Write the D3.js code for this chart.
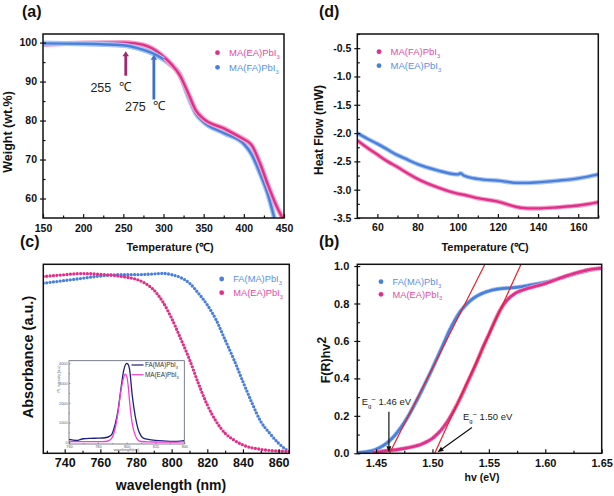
<!DOCTYPE html>
<html><head><meta charset="utf-8">
<script src="https://cdn.jsdelivr.net/npm/d3@7/dist/d3.min.js"></script>
<style>
body{margin:0;background:#fff;}
svg text{font-family:"Liberation Sans",Arial,Helvetica,sans-serif;}
</style></head>
<body>
<svg id="chart" width="614" height="496"></svg>
<script>
// ---------------- data ----------------
// (a) TGA
const tgaTempEA   = [150,200,250,265,275,285,300,310,320,330,340,350,375,400,405,410,420,430,440,448];
const tgaWeightEA = [99.5,99.9,100.0,99.8,99.4,98.6,96.4,94.4,91.7,87.4,82.7,80.4,78.0,75.2,74.6,73.6,69.1,63.5,58.4,55.0];
const tgaTempFA   = [150,200,250,275,290,300,310,320,330,340,350,375,400,410,420,430,438];
const tgaWeightFA = [99.8,99.7,99.3,98.1,96.9,95.7,94.1,92.1,86.6,81.9,79.6,76.8,74.0,71.2,66.5,61.0,55.0];
const tgaLegend   = ["MA(EA)PbI3","MA(FA)PbI3"];
const tgaXTicks   = [150,200,250,300,350,400,450];
const tgaYTicks   = [60,70,80,90,100];
const tgaOnset    = [255,275];          // annotated onset temperatures
const tgaArrowT   = [253,288];          // arrow positions (°C)
const tgaArrowW0  = [91.5,85.4];        // arrow tail (wt.%)
const tgaArrowW1  = [97.8,96.9];        // arrow head (wt.%)

// (d) DSC
const dscTemp  = [50,55,60,65,70,75,80,90,100,101.5,103,110,120,130,135,140,150,160,170];
const dscPink  = [-2.13,-2.26,-2.38,-2.50,-2.60,-2.71,-2.81,-2.96,-3.07,-3.08,-3.09,-3.15,-3.21,-3.31,-3.33,-3.33,-3.31,-3.28,-3.22];
const dscBlue  = [-2.00,-2.10,-2.19,-2.29,-2.39,-2.47,-2.55,-2.66,-2.73,-2.71,-2.75,-2.81,-2.84,-2.88,-2.88,-2.87,-2.84,-2.80,-2.73];
const dscLegend = ["MA(FA)PbI3","MA(EA)PbI3"];
const dscXTicks = [60,80,100,120,140,160];
const dscYTicks = [-3.5,-3.0,-2.5,-2.0,-1.5,-1.0,-0.5];

// (c) Absorbance
const absWlFA = [728,740,750,760,770,780,790,795,800,805,810,815,820,825,830,835,840,845,850,855,860,865];
const absFA   = [0.900,0.914,0.926,0.938,0.945,0.945,0.949,0.952,0.945,0.930,0.900,0.847,0.785,0.705,0.600,0.494,0.379,0.268,0.168,0.106,0.053,0.014];
const absWlEA = [728,740,750,760,770,775,780,785,790,795,800,805,810,815,820,825,830,835,840,850,860,866];
const absEA   = [0.935,0.945,0.951,0.947,0.938,0.931,0.921,0.900,0.864,0.802,0.714,0.608,0.497,0.370,0.256,0.168,0.106,0.070,0.044,0.021,0.012,0.010];
const absLegend = ["FA(MA)PbI3","MA(EA)PbI3"];
const absXTicks = [740,760,780,800,820,840,860];

// (c) inset PL
const plWlFA = [760,765,770,775,780,785,788,790,792,794,796,798,800,801,802,804,806,808,810,812,815,820,825,830,835,840];
const plFA   = [150,90,180,200,210,230,300,450,900,1600,2700,3650,4000,3950,3700,2300,1300,650,330,200,150,100,70,50,40,80];
const plWlEA = [760,770,780,785,788,790,792,794,796,798,799,800,801,802,803,804,806,808,810,815,820,830,840];
const plEA   = [40,30,30,40,100,250,700,1500,2600,3300,3450,3350,2900,2100,1400,900,350,100,40,20,15,10,20];
const plLegend = ["FA(MA)PbI3","MA(EA)PbI3"];
const plXTicks = [760,780,800,820,840];
const plYTicks = [0,1000,2000,3000,4000];

// (b) Tauc-like plot
const bgEFA = [1.435,1.44,1.45,1.455,1.46,1.465,1.47,1.475,1.48,1.485,1.49,1.495,1.50,1.505,1.51,1.515,1.52,1.525,1.53,1.535,1.54,1.55,1.56,1.57,1.58,1.59,1.60,1.61,1.62,1.63,1.64,1.65];
const bgFA  = [0.004,0.007,0.021,0.036,0.057,0.085,0.121,0.164,0.214,0.270,0.329,0.391,0.454,0.520,0.587,0.655,0.712,0.760,0.795,0.822,0.842,0.867,0.879,0.884,0.891,0.902,0.913,0.929,0.947,0.964,0.979,0.988];
const bgEEA = [1.448,1.46,1.47,1.48,1.49,1.495,1.50,1.505,1.51,1.515,1.52,1.525,1.53,1.535,1.54,1.545,1.55,1.555,1.56,1.565,1.57,1.575,1.58,1.59,1.60,1.61,1.62,1.63,1.64,1.65];
const bgEA  = [0.005,0.014,0.021,0.032,0.048,0.062,0.080,0.107,0.142,0.187,0.240,0.300,0.365,0.430,0.498,0.570,0.635,0.703,0.765,0.810,0.840,0.860,0.872,0.890,0.907,0.929,0.950,0.968,0.982,0.989];
const bgLegend = ["FA(MA)PbI3","MA(EA)PbI3"];
const bgTangentE0 = [1.462,1.502];   // intercept at F=0
const bgTangentE1 = [1.5465,1.5785]; // at top of axis
const bgGapLabels = ["1.46 eV","1.50 eV"];
const bgXTicks = [1.45,1.50,1.55,1.60,1.65];
const bgYTicks = [0,0.2,0.4,0.6,0.8,1.0];

// ---------------- drawing ----------------
const svg = d3.select('#chart');
const defs = svg.append('defs');
const PINK='#e0308a', PINK_L='#f3a3cb', BLUE='#4a80dc', BLUE_L='#a9c6f1';
const PINK_T='#e24b9f', BLUE_T='#5a8fe2';
const INK='#111';

function makePanel(o){
  const x=d3.scaleLinear().domain(o.xd).range([o.l,o.r]);
  const y=d3.scaleLinear().domain(o.yd).range([o.b,o.t]);
  const g=svg.append('g');
  const id='clip'+o.name;
  defs.append('clipPath').attr('id',id).append('rect')
    .attr('x',o.l).attr('y',o.t).attr('width',o.r-o.l).attr('height',o.b-o.t);
  if(o.bg) g.append('rect').attr('x',o.l).attr('y',o.t).attr('width',o.r-o.l).attr('height',o.b-o.t).attr('fill',o.bg);
  const plot=g.append('g').attr('clip-path',`url(#${id})`);
  return {x,y,g,plot,o};
}
function axes(p,a){
  const {x,y,g,o}=p;
  const sw=a.sw||1.5, col=a.col||INK;
  if(a.xt){
    const ax=g.append('g').attr('transform',`translate(0,${o.b})`)
      .call(d3.axisBottom(x).tickValues(a.xt).tickFormat(a.xf).tickSize(-a.tl).tickPadding(a.xpad));
    ax.select('.domain').remove();
    ax.attr('font-size',a.fs).attr('font-family',null).attr('font-weight',a.fw||'bold').attr('color',col);
    ax.selectAll('line').attr('stroke-width',a.tw||1.2);
    if(a.xfc) ax.selectAll('text').attr('fill',a.xfc);
    if(a.xm){
      const mx=g.append('g').attr('transform',`translate(0,${o.b})`)
        .call(d3.axisBottom(x).tickValues(a.xm).tickFormat('').tickSize(-a.ml));
      mx.select('.domain').remove();
      mx.attr('color',col).selectAll('line').attr('stroke-width',a.tw||1.2);
    }
  }
  if(a.yt){
    const ay=g.append('g').attr('transform',`translate(${o.l},0)`)
      .call(d3.axisLeft(y).tickValues(a.yt).tickFormat(a.yf).tickSize(a.tlo).tickPadding(a.ypad));
    ay.select('.domain').remove();
    ay.attr('font-size',a.fs).attr('font-family',null).attr('font-weight',a.fw||'bold').attr('color',col);
    ay.selectAll('line').attr('x1',a.tli).attr('stroke-width',a.tw||1.2);
    if(a.yfc) ay.selectAll('text').attr('fill',a.yfc);
    if(a.ym){
      const my=g.append('g').attr('transform',`translate(${o.l},0)`)
        .call(d3.axisLeft(y).tickValues(a.ym).tickFormat('').tickSize(-a.ml));
      my.select('.domain').remove();
      my.attr('color',col).selectAll('line').attr('stroke-width',a.tw||1.2);
    }
  }
  g.append('rect').attr('x',o.l).attr('y',o.t).attr('width',o.r-o.l).attr('height',o.b-o.t)
    .attr('fill','none').attr('stroke',col).attr('stroke-width',sw);
}
function range(a,b,s){const r=[];for(let v=a;v<=b+1e-9;v+=s)r.push(+v.toFixed(6));return r;}
function chem(t,name,fs){
  const m=name.match(/^(.*?)(\d)$/);
  t.append('tspan').text(m[1]);
  t.append('tspan').attr('font-size',fs*0.62).attr('dy',fs*0.3).text(m[2]);
}
function legend(g,items,x0,y0,dy,fs,kind){
  items.forEach((it,i)=>{
    const yy=y0+i*dy;
    if(kind==='line'){
      g.append('line').attr('x1',x0-6).attr('x2',x0+6).attr('y1',yy).attr('y2',yy).attr('stroke',it.c).attr('stroke-width',1.2);
    }else{
      g.append('circle').attr('cx',x0).attr('cy',yy).attr('r',2.4).attr('fill',it.c);
    }
    const t=g.append('text').attr('x',x0+(kind==='line'?7.5:11.5)).attr('y',yy+fs*0.36).attr('font-size',fs).attr('fill',it.tc||it.c);
    chem(t,it.name,fs);
  });
}
function band(p,xs,ys,c,cl,wc,wh,curve){
  const line=d3.line().x((d,i)=>p.x(xs[i])).y(d=>p.y(d)).curve(curve||d3.curveMonotoneX);
  p.plot.append('path').attr('d',line(ys)).attr('fill','none').attr('stroke',cl).attr('stroke-width',wh).attr('stroke-linejoin','round');
  p.plot.append('path').attr('d',line(ys)).attr('fill','none').attr('stroke',c).attr('stroke-width',wc).attr('stroke-linejoin','round');
}
function dotted(p,xs,ys,c,w,gap,halo,hw){
  const line=d3.line().x((d,i)=>p.x(xs[i])).y(d=>p.y(d)).curve(d3.curveMonotoneX);
  if(halo) p.plot.append('path').attr('d',line(ys)).attr('fill','none').attr('stroke',halo).attr('stroke-width',hw);
  p.plot.append('path').attr('d',line(ys)).attr('fill','none').attr('stroke',c).attr('stroke-width',w)
    .attr('stroke-linecap','round').attr('stroke-dasharray',`0 ${gap}`);
}
function arrow(g,x1,y1,x2,y2,c,w,hl,hw){
  const dx=x2-x1, dy=y2-y1, L=Math.hypot(dx,dy), ux=dx/L, uy=dy/L;
  const bx=x2-ux*hl, by=y2-uy*hl;
  g.append('line').attr('x1',x1).attr('y1',y1).attr('x2',bx+ux*0.5).attr('y2',by+uy*0.5).attr('stroke',c).attr('stroke-width',w);
  g.append('path').attr('d',`M${x2},${y2}L${bx-uy*hw/2},${by+ux*hw/2}L${bx+uy*hw/2},${by-ux*hw/2}Z`).attr('fill',c);
}
function title(x,y,txt,fs,rot,opts){
  const t=svg.append('text').attr('font-size',fs).attr('font-weight','bold').attr('fill',INK).attr('text-anchor','middle');
  if(rot) t.attr('transform',`translate(${x},${y}) rotate(-90)`); else t.attr('x',x).attr('y',y);
  t.text(txt);
  return t;
}
function panelLabel(x,y,txt){
  svg.append('text').attr('x',x).attr('y',y).attr('font-size',16).attr('font-weight','bold').attr('fill',INK).text(txt);
}
const f1=d=>d.toFixed(1), f2=d=>d.toFixed(2), fi=d=>String(d);

// ===== (a) =====
const pa=makePanel({name:'a',l:43,r:284,t:34,b:218,xd:[150,450],yd:[55,102.2]});
band(pa,tgaTempFA,tgaWeightFA,BLUE,BLUE_L,2.4,5);
band(pa,tgaTempEA,tgaWeightEA,PINK,PINK_L,2.4,5);
band(pa,tgaTempFA.filter(t=>t<=300),tgaWeightFA.filter((d,i)=>tgaTempFA[i]<=300),BLUE,BLUE_L,2.4,5);
axes(pa,{xt:tgaXTicks,xf:fi,xm:range(175,425,50),yt:tgaYTicks,yf:fi,ym:range(65,95,10),
  tl:4,ml:2.5,tlo:3,tli:3,xpad:7,ypad:3,fs:10.5});
{
  const cols=['#a2286e','#3f70c8'];
  tgaOnset.forEach((v,i)=>{
    arrow(pa.g,pa.x(tgaArrowT[i]),pa.y(tgaArrowW0[i]),pa.x(tgaArrowT[i]),pa.y(tgaArrowW1[i]),cols[i],2.8,5,6.5);
  });
  pa.g.append('text').attr('x',pa.x(209)).attr('y',pa.y(87.3)).attr('font-size',12.5).attr('fill','#222').text(tgaOnset[0]);
  pa.g.append('text').attr('x',pa.x(245)).attr('y',pa.y(87.6)).attr('font-size',12.5).attr('fill','#222').attr('font-family','DejaVu Sans').text('℃');
  pa.g.append('text').attr('x',pa.x(252)).attr('y',pa.y(82.5)).attr('font-size',12.5).attr('fill','#222').text(tgaOnset[1]);
  pa.g.append('text').attr('x',pa.x(287)).attr('y',pa.y(82.8)).attr('font-size',12.5).attr('fill','#222').attr('font-family','DejaVu Sans').text('℃');
}
legend(pa.g,[{name:tgaLegend[0],c:PINK,tc:PINK_T},{name:tgaLegend[1],c:BLUE,tc:BLUE_T}],217.5,52.7,14.6,9.5);
title(12,132,'Weight (wt.%)',12.5,true);
title(170,251,'Temperature (℃)',11,false);
panelLabel(22,17,'(a)');

// ===== (d) =====
const pd=makePanel({name:'d',l:357.3,r:598.3,t:34,b:218,xd:[50,170],yd:[-3.5,-0.25]});
band(pd,dscTemp,dscBlue,BLUE,BLUE_L,2.4,4.6);
band(pd,dscTemp,dscPink,PINK,PINK_L,2.4,4.6);
axes(pd,{xt:dscXTicks,xf:fi,xm:range(70,170,20),yt:dscYTicks,yf:f1,ym:range(-3.25,-0.25,0.5),
  tl:4,ml:2.5,tlo:3,tli:3,xpad:6,ypad:3,fs:10.5});
legend(pd.g,[{name:dscLegend[0],c:PINK,tc:PINK_T},{name:dscLegend[1],c:BLUE,tc:BLUE_T}],379,51.7,14,9.5);
title(323,130,'Heat Flow (mW)',12,true);
title(485,251,'Temperature (℃)',11,false);
panelLabel(319,17,'(d)');

// ===== (c) =====
const pc=makePanel({name:'c',l:43.3,r:289.3,t:264.3,b:453.3,xd:[728,866],yd:[0,1]});
dotted(pc,absWlFA,absFA,BLUE,3.3,3.4);
dotted(pc,absWlEA,absEA,PINK,3.3,3.4);
axes(pc,{xt:absXTicks,xf:fi,xm:range(730,850,20),tl:4,ml:2.5,xpad:5,fs:12.5});
legend(pc.g,[{name:absLegend[0],c:BLUE,tc:BLUE_T},{name:absLegend[1],c:PINK,tc:PINK_T}],221.7,279,13.7,9.3);
title(33,357,'Absorbance (a.u.)',14.5,true);
title(171,490,'wavelength (nm)',14,false);
panelLabel(20,247,'(c)');

// inset
const pi=makePanel({name:'i',l:69,r:184.3,t:360.7,b:444,xd:[760,840],yd:[-86,4132],bg:'#fff'});
{
  const l1=d3.line().x((d,i)=>pi.x(plWlFA[i])).y(d=>pi.y(d)).curve(d3.curveMonotoneX);
  const l2=d3.line().x((d,i)=>pi.x(plWlEA[i])).y(d=>pi.y(d)).curve(d3.curveMonotoneX);
  pi.plot.append('path').attr('d',l1(plFA)).attr('fill','none').attr('stroke','#1d1f7e').attr('stroke-width',1.3);
  pi.plot.append('path').attr('d',l2(plEA)).attr('fill','none').attr('stroke','#f23fd0').attr('stroke-width',1.3);
}
axes(pi,{xt:plXTicks,xf:fi,xm:range(770,830,20),yt:plYTicks,yf:fi,ym:range(500,3500,1000),
  tl:1.5,ml:1,tlo:0,tli:1.5,xpad:1.2,ypad:1.5,fs:3.8,fw:'normal',sw:0.8,tw:0.6,col:'#5a6070'});
legend(pi.g,[{name:plLegend[0],c:'#1d1f7e',tc:'#333'},{name:plLegend[1],c:'#f23fd0',tc:'#333'}],137.5,365,9.7,6.3,'line');
svg.append('text').attr('transform','translate(59.5,379) rotate(-90)').attr('text-anchor','middle')
  .attr('font-size',3.6).attr('fill','#555').text('PL intensity (a.u)');
svg.append('text').attr('x',126.5).attr('y',450.5).attr('text-anchor','middle')
  .attr('font-size',3.6).attr('fill','#555').text('wavelength(nm)');

// ===== (b) =====
const pb=makePanel({name:'b',l:357.3,r:601.7,t:264.3,b:453.3,xd:[1.4334,1.65],yd:[0,1.0093]});
dotted(pb,bgEFA,bgFA,BLUE,3.2,2.3,BLUE_L,4.2);
dotted(pb,bgEEA,bgEA,PINK,3.2,2.3,PINK_L,4.2);
bgTangentE0.forEach((e0,i)=>{
  pb.plot.append('line').attr('x1',pb.x(e0)).attr('y1',pb.y(0)).attr('x2',pb.x(bgTangentE1[i])).attr('y2',pb.y(1.0093))
    .attr('stroke','#e8202a').attr('stroke-width',1.2);
});
axes(pb,{xt:bgXTicks,xf:f2,xm:range(1.475,1.625,0.05),yt:bgYTicks,yf:f1,ym:range(0.1,0.9,0.2),
  tl:4,ml:2.5,tlo:3,tli:3,xpad:5.5,ypad:5,fs:11});
{
  const fs=9.5;
  const put=(x,y,lab)=>{
    const t=pb.g.append('text').attr('x',x).attr('y',y).attr('font-size',fs).attr('fill','#222');
    t.append('tspan').text('E');
    t.append('tspan').attr('font-size',fs*0.62).attr('dy',fs*0.3).text('g');
    t.append('tspan').attr('font-size',fs*0.8).attr('dy',-fs*0.6).text('~');
    t.append('tspan').attr('dy',fs*0.3).text(' '+lab);
  };
  put(pb.x(1.4373),pb.y(0.257),bgGapLabels[0]);
  put(pb.x(1.527),pb.y(0.178),bgGapLabels[1]);
  arrow(pb.g,pb.x(1.4614),pb.y(0.222),pb.x(1.4614),pb.y(0.006),'#111',1.2,6,5);
  arrow(pb.g,pb.x(1.535),pb.y(0.138),pb.x(1.5045),pb.y(0.006),'#111',1.2,6,5);
}
legend(pb.g,[{name:bgLegend[0],c:BLUE,tc:BLUE_T},{name:bgLegend[1],c:PINK,tc:PINK_T}],381,281.7,12.6,9.3);
{
  const t=svg.append('text').attr('transform','translate(330,360) rotate(-90)').attr('text-anchor','middle')
    .attr('font-size',12.5).attr('font-weight','bold').attr('fill',INK);
  t.append('tspan').text('F(R)hv');
  t.append('tspan').attr('dy',-4.5).text('2');
}
title(482,481,'hv (eV)',10.5,false);
panelLabel(319,247,'(b)');
</script>
</body></html>
